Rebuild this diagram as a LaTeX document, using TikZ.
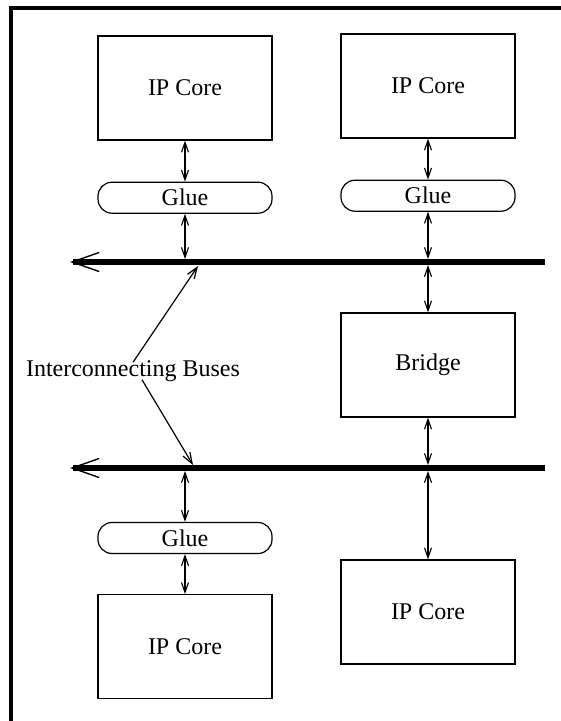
\documentclass[tikz,border=0pt]{standalone}
\usepackage{fontspec}
\setmainfont{Liberation Serif}
\usetikzlibrary{positioning,arrows.meta}

\begin{document}
\begin{tikzpicture}[x=1pt,y=-1pt,
            main node/.style={draw,line width=1.2pt,font=\fontsize{24}{28}\selectfont},
            core node/.style={main node,minimum width=174pt,minimum height=104pt},
            glue node/.style={main node,rounded corners=14pt,inner sep=0pt,
                minimum width=174pt,minimum height=31pt},
            link/.style={{Straight Barb[length=10pt,width=7pt]}-{Straight Barb[length=10pt,width=7pt]},
                line width=1.1pt},
            bus/.style={-{Straight Barb[length=27pt,width=19pt,line width'=1.4pt]},line width=6pt},
            pointer/.style={-{Straight Barb[length=11pt,width=8pt]},line width=1.2pt}]

        \useasboundingbox (0,0) rectangle (561,721);

        % Frame
        \draw[line width=4pt] (561,8) -- (11,8) -- (11,721);

        % Define vertices
        \node[core node] (coreTL) at (185,88) {IP Core};
        \node[glue node] (glueTL) [below=41pt of coreTL] {Glue};
        \node[core node] (coreTR) at (428,86) {IP Core};
        \node[glue node] (glueTR) [below=41pt of coreTR] {Glue};
        \node[core node] (bridge) at (428,365) {Bridge};
        \node[glue node] (glueBL) at (185,538) {Glue};
        \node[core node] (coreBL) [below=40pt of glueBL] {IP Core};
        \node[core node] (coreBR) at (428,612) {IP Core};
        \node[font=\fontsize{24}{28}\selectfont,inner sep=1pt] (buses) at (133,371) {Interconnecting Buses};

        % Buses
        \coordinate (busAend) at (545,262);
        \coordinate (busAtip) at (70,262);
        \coordinate (busBend) at (545,468);
        \coordinate (busBtip) at (70,468);
        \draw[bus] (busAend) -- (busAtip);
        \draw[bus] (busBend) -- (busBtip);

        % Draw edges
        \path[link]
            (coreTL) edge (glueTL)
            (glueTL) edge[shorten >=3pt] (glueTL |- busAend)
            (coreTR) edge (glueTR)
            (glueTR) edge[shorten >=3pt] (glueTR |- busAend)
            (bridge |- busAend) edge[shorten <=3pt] (bridge)
            (bridge) edge[shorten >=3pt] (bridge |- busBend)
            (coreBR |- busBend) edge[shorten <=3pt] (coreBR)
            (glueBL |- busBend) edge[shorten <=3pt] (glueBL)
            (glueBL) edge (coreBL);

        % Pointers to the buses
        \coordinate (hitA) at (198,266);
        \coordinate (hitB) at (193,465);
        \draw[pointer] ([yshift=-3pt]buses.north) -- (hitA);
        \draw[pointer] ([xshift=9pt,yshift=3pt]buses.south) -- (hitB);

\end{tikzpicture}
\end{document}
